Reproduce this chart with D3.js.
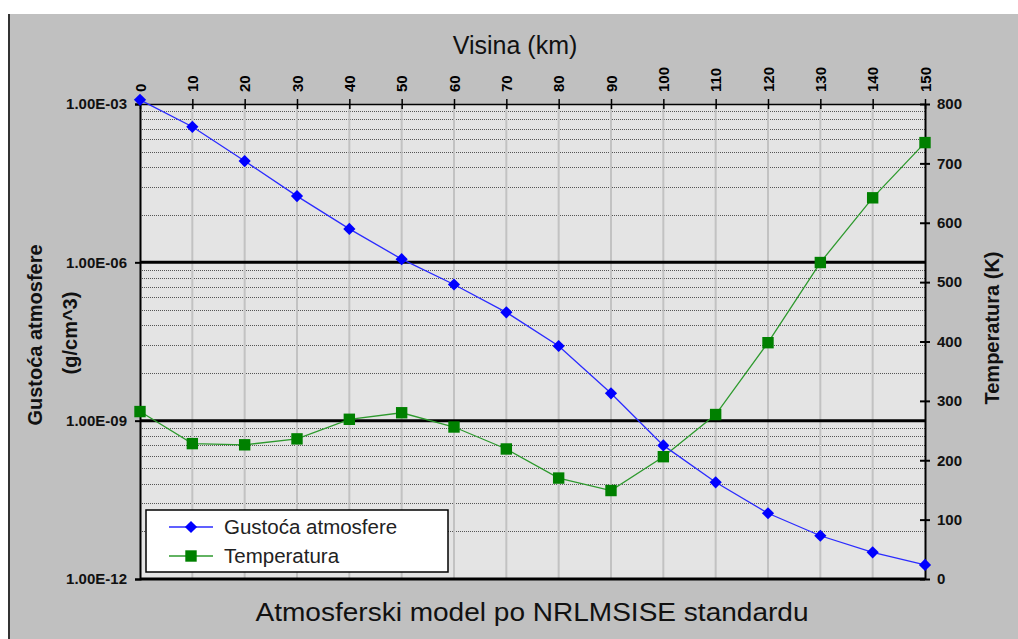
<!DOCTYPE html>
<html>
<head>
<meta charset="utf-8">
<script src="https://cdn.jsdelivr.net/npm/d3@7"></script>
<style>
  body { margin: 0; background: #fff; }
  text { font-family: "Liberation Sans", Arial, sans-serif; }
</style>
</head>
<body>
<div id="chart"></div>
<script>
// NRLMSISE atmosphere: altitude (km), density (g/cm^3), temperature (K)
const altitude = [0, 10, 20, 30, 40, 50, 60, 70, 80, 90, 100, 110, 120, 130, 140, 150];
const density = [1.2e-3, 3.7e-4, 8.3e-5, 1.8e-5, 4.3e-6, 1.15e-6, 3.8e-7, 1.13e-7,
  2.6e-8, 3.3e-9, 3.4e-10, 6.8e-11, 1.76e-11, 6.6e-12, 3.2e-12, 1.85e-12];
const temperature = [282, 228, 226, 236, 269, 280, 256, 219, 170, 149, 206, 277, 398, 533, 642, 735];

const altTicks = [0, 10, 20, 30, 40, 50, 60, 70, 80, 90, 100, 110, 120, 130, 140, 150];
const densityTicks = [1e-3, 1e-6, 1e-9, 1e-12];
const densityLabels = ["1.00E-03", "1.00E-06", "1.00E-09", "1.00E-12"];
const tempTicks = [0, 100, 200, 300, 400, 500, 600, 700, 800];
const seriesNames = ["Gustoća atmosfere", "Temperatura"];

const W = 1018, H = 639;
const plot = {left: 140, right: 925, top: 104, bottom: 579};

const svg = d3.select("#chart").append("svg")
  .attr("width", W).attr("height", H);

// frame
svg.append("rect").attr("x", 8).attr("y", 14).attr("width", W - 8).attr("height", H - 14)
  .attr("fill", "#c0c0c0");
svg.append("line").attr("x1", 9).attr("x2", 9).attr("y1", 14).attr("y2", H)
  .attr("stroke", "#333").attr("stroke-width", 2);

const x = d3.scaleLinear().domain([0, 150]).range([plot.left, plot.right]);
const yD = d3.scaleLog().domain([1e-12, 1e-3]).range([plot.bottom, plot.top]);
const yT = d3.scaleLinear().domain([0, 800]).range([plot.bottom, plot.top]);

svg.append("rect")
  .attr("x", plot.left).attr("y", plot.top)
  .attr("width", plot.right - plot.left).attr("height", plot.bottom - plot.top)
  .attr("fill", "#e4e4e4");

// minor gridlines (major unit = 1000, so minors at lower * k^3)
const minors = [];
densityTicks.slice(1).forEach(lo => {
  for (let k = 2; k <= 9; k++) minors.push(lo * k * k * k);
});
svg.append("g").selectAll("line").data(minors).join("line")
  .attr("x1", plot.left).attr("x2", plot.right)
  .attr("y1", d => Math.round(yD(d)) + 0.5).attr("y2", d => Math.round(yD(d)) + 0.5)
  .attr("stroke", "#555").attr("stroke-width", 1).attr("stroke-dasharray", "1,1");

// vertical gridlines
svg.append("g").selectAll("line").data(altTicks.slice(1, -1)).join("line")
  .attr("x1", d => x(d)).attr("x2", d => x(d))
  .attr("y1", plot.top).attr("y2", plot.bottom)
  .attr("stroke", "#c2c2c2").attr("stroke-width", 2);

// major gridlines
svg.append("g").selectAll("line").data(densityTicks.slice(1, -1)).join("line")
  .attr("x1", plot.left).attr("x2", plot.right)
  .attr("y1", d => yD(d)).attr("y2", d => yD(d))
  .attr("stroke", "#000").attr("stroke-width", 3);

// axes
const topAxis = d3.axisTop(x).tickValues(altTicks).tickSizeInner(5).tickSizeOuter(0).tickFormat("");
const gTop = svg.append("g").attr("transform", `translate(0,${plot.top})`).call(topAxis);
gTop.selectAll("line").attr("y2", 5).attr("y1", -5);
gTop.selectAll("line, path").attr("stroke", "#000").attr("stroke-width", 1.5);
gTop.selectAll(".tick").append("text")
  .attr("transform", "rotate(-90)")
  .attr("x", 12).attr("y", 0).attr("dy", "0.35em")
  .attr("text-anchor", "start")
  .attr("fill", "#000").attr("font-size", 15).attr("font-weight", "bold")
  .text(d => d);

const leftAxis = d3.axisLeft(yD).tickValues(densityTicks).tickSize(5)
  .tickFormat((d, i) => densityLabels[i]);
const gLeft = svg.append("g").attr("transform", `translate(${plot.left},0)`).call(leftAxis);
gLeft.selectAll("path, line").attr("stroke", "#000").attr("stroke-width", 2);
gLeft.selectAll("text").attr("font-size", 15).attr("font-weight", "bold").attr("fill", "#111")
  .attr("x", -13);

const rightAxis = d3.axisRight(yT).tickValues(tempTicks).tickSize(5).tickSizeOuter(0);
const gRight = svg.append("g").attr("transform", `translate(${plot.right},0)`).call(rightAxis);
gRight.selectAll(".tick line").attr("x1", -5);
gRight.selectAll("path, line").attr("stroke", "#000").attr("stroke-width", 2);
gRight.selectAll("text").attr("font-size", 15).attr("font-weight", "bold").attr("fill", "#111")
  .attr("x", 12);

svg.append("line").attr("x1", plot.left).attr("x2", plot.right)
  .attr("y1", plot.bottom).attr("y2", plot.bottom)
  .attr("stroke", "#000").attr("stroke-width", 3);

// series
const densPts = altitude.map((a, i) => [a, density[i]]);
const tempPts = altitude.map((a, i) => [a, temperature[i]]);

svg.append("path").datum(tempPts)
  .attr("fill", "none").attr("stroke", "#2e9a2e").attr("stroke-width", 1.3)
  .attr("d", d3.line().x(d => x(d[0])).y(d => yT(d[1])));
svg.append("path").datum(densPts)
  .attr("fill", "none").attr("stroke", "#2b2bff").attr("stroke-width", 1.3)
  .attr("d", d3.line().x(d => x(d[0])).y(d => yD(d[1])));

const diamond = d3.symbol().type(d3.symbolDiamond2).size(95);
const square = d3.symbol().type(d3.symbolSquare).size(130);

svg.append("g").selectAll("path").data(tempPts).join("path")
  .attr("transform", d => `translate(${x(d[0])},${yT(d[1])})`)
  .attr("d", square).attr("fill", "#008000");
svg.append("g").selectAll("path").data(densPts).join("path")
  .attr("transform", d => `translate(${x(d[0])},${yD(d[1])})`)
  .attr("d", diamond).attr("fill", "#0000ff");

// legend
const lg = svg.append("g");
lg.append("rect").attr("x", 146).attr("y", 510).attr("width", 302).attr("height", 62)
  .attr("fill", "#fff").attr("stroke", "#000").attr("stroke-width", 1.5);
const rows = [
  {name: seriesNames[0], color: "#2b2bff", fill: "#0000ff", sym: diamond, y: 527},
  {name: seriesNames[1], color: "#2e9a2e", fill: "#008000", sym: square, y: 556}
];
rows.forEach(r => {
  lg.append("line").attr("x1", 169).attr("x2", 213).attr("y1", r.y).attr("y2", r.y)
    .attr("stroke", r.color).attr("stroke-width", 1.3);
  lg.append("path").attr("transform", `translate(191,${r.y})`).attr("d", r.sym).attr("fill", r.fill);
  lg.append("text").attr("x", 224).attr("y", r.y).attr("dy", "0.35em")
    .attr("font-size", 20.5).attr("fill", "#222").text(r.name);
});

// titles
svg.append("text").attr("x", 515).attr("y", 54).attr("text-anchor", "middle")
  .attr("font-size", 25).attr("fill", "#111").text("Visina (km)");
svg.append("text").attr("x", 532).attr("y", 621).attr("text-anchor", "middle")
  .attr("font-size", 25).attr("textLength", 553).attr("lengthAdjust", "spacingAndGlyphs")
  .attr("fill", "#111").text("Atmosferski model po NRLMSISE standardu");
svg.append("text").attr("transform", "translate(42,335) rotate(-90)").attr("text-anchor", "middle")
  .attr("font-size", 20).attr("font-weight", "bold").attr("fill", "#111").text("Gustoća atmosfere");
svg.append("text").attr("transform", "translate(77,333) rotate(-90)").attr("text-anchor", "middle")
  .attr("font-size", 20).attr("font-weight", "bold").attr("fill", "#111").text("(g/cm^3)");
svg.append("text").attr("transform", "translate(999,328) rotate(-90)").attr("text-anchor", "middle")
  .attr("font-size", 20).attr("font-weight", "bold").attr("fill", "#111").text("Temperatura (K)");
</script>
</body>
</html>
